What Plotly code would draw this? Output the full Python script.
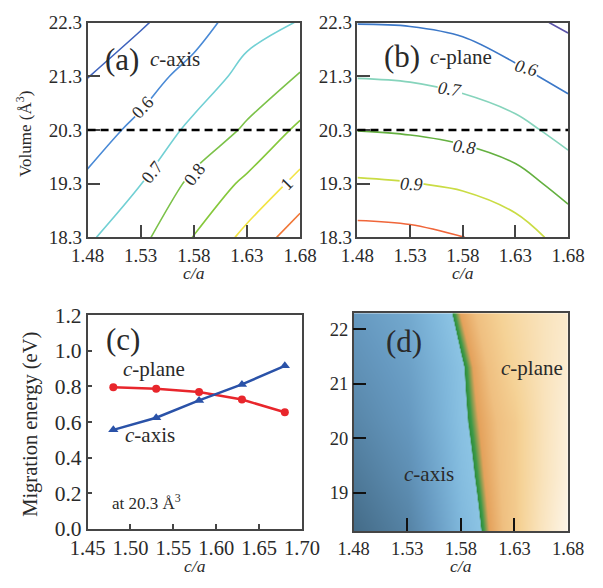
import plotly.graph_objects as go

# ---------------- data ----------------
ca = [1.48, 1.53, 1.58, 1.63, 1.68]          # c/a grid
vol = [18.3, 19.3, 20.3, 21.3, 22.3]         # volume grid (A^3)

# (a) c-axis migration energy (eV), rows = volume, cols = c/a
e_caxis = [
    [0.685, 0.775, 0.904, 1.028, 1.157],
    [0.617, 0.698, 0.827, 0.920, 1.030],
    [0.555, 0.625, 0.725, 0.815, 0.920],
    [0.498, 0.555, 0.638, 0.734, 0.808],
    [0.438, 0.490, 0.550, 0.660, 0.705],
]
# (b) c-plane migration energy (eV)
e_cplane = [
    [1.040, 1.030, 1.002, 0.950, 0.860],
    [0.913, 0.904, 0.884, 0.840, 0.763],
    [0.798, 0.789, 0.769, 0.733, 0.662],
    [0.696, 0.689, 0.667, 0.623, 0.570],
    [0.597, 0.593, 0.576, 0.530, 0.483],
]
levels_a = [0.5, 0.6, 0.7, 0.8, 0.9, 1.0, 1.1]
colors_a = ["#3f63bd", "#4a8ad6", "#72d0d4", "#7cc24a", "#86c83c", "#f2e444", "#f07636"]
# contour labels: text, c/a, volume, angle
labels_a = [("0.6", 1.532, 20.73, -47), ("0.7", 1.541, 19.51, -52),
            ("0.8", 1.581, 19.48, -53), ("1", 1.667, 19.30, -45)]

levels_b = [0.5, 0.6, 0.7, 0.8, 0.9, 1.0]
colors_b = ["#5a52a8", "#3c78c8", "#86d4bc", "#64b040", "#cadc44", "#f0663a"]
labels_b = [("0.6", 1.641, 21.46, 15), ("0.7", 1.568, 21.06, 8),
            ("0.8", 1.582, 19.98, 7), ("0.9", 1.531, 19.30, 3)]

# (c) energies at 20.3 A^3
ca_line = [1.48, 1.53, 1.58, 1.63, 1.68]
e_caxis_203 = [0.556, 0.624, 0.721, 0.811, 0.915]
e_cplane_203 = [0.795, 0.786, 0.768, 0.726, 0.655]

# (d) preference map: E(c-axis) - E(c-plane)
e_diff = [
    [-0.355, -0.255, -0.048, 0.078, 0.297],
    [-0.296, -0.204, -0.028, 0.080, 0.267],
    [-0.243, -0.164, -0.013, 0.082, 0.258],
    [-0.198, -0.134, -0.008, 0.111, 0.238],
    [-0.159, -0.103, 0.020, 0.130, 0.222],
]

FONT = "Liberation Serif"
TXT = "#2a2a2a"
FRAME = "#454545"

fig = go.Figure()

def add_contours(z, levels, colors, xa, ya):
    for L, c in zip(levels, colors):
        fig.add_trace(go.Contour(
            x=ca, y=vol, z=z, xaxis=xa, yaxis=ya,
            autocontour=False,
            contours=dict(start=L, end=L, size=1, coloring="lines", showlabels=False),
            colorscale=[[0, c], [1, c]], showscale=False,
            line=dict(width=1.6), hoverinfo="skip"))

add_contours(e_caxis, levels_a, colors_a, "x", "y")
add_contours(e_cplane, levels_b, colors_b, "x2", "y2")

# (c)
fig.add_trace(go.Scatter(x=ca_line, y=e_cplane_203, xaxis="x3", yaxis="y3",
                         mode="lines+markers", line=dict(color="#e8262c", width=2.5),
                         marker=dict(symbol="circle", size=8, color="#e8262c"),
                         showlegend=False))
fig.add_trace(go.Scatter(x=ca_line, y=e_caxis_203, xaxis="x3", yaxis="y3",
                         mode="lines+markers", line=dict(color="#2a52a8", width=2.5),
                         marker=dict(symbol="triangle-up", size=9, color="#2a52a8"),
                         showlegend=False))

# (d)
zmin, zmax = -0.36, 0.30
stops = [(-0.36, "#436a86"), (-0.16, "#6699c0"), (-0.05, "#7fb7db"), (-0.001, "#8cc4e4"),
         (0.0, "#2f8d3c"), (0.005, "#3a9a48"), (0.018, "#e4a25c"), (0.05, "#efbf80"),
         (0.10, "#f5d296"), (0.18, "#f9e3bc"), (0.30, "#fdf6ea")]
cscale = [[(v - zmin) / (zmax - zmin), col] for v, col in stops]
fig.add_trace(go.Heatmap(x=ca, y=vol, z=e_diff, xaxis="x4", yaxis="y4",
                         zmin=zmin, zmax=zmax, colorscale=cscale, zsmooth="best",
                         showscale=False, hoverinfo="skip"))

def common(size, tc=FRAME):
    return dict(showline=True, mirror=True, linecolor=FRAME, linewidth=1.5,
                ticks="inside", tickcolor=tc, tickwidth=1.5, showgrid=False,
                zeroline=False, tickfont=dict(family=FONT, size=size, color=TXT))

H = 588.0
W = 603.0
def dx(a, b): return [a / W, b / W]
def dy(top, bot): return [1 - bot / H, 1 - top / H]

fig.update_layout(
    width=603, height=588, margin=dict(l=0, r=0, t=0, b=0),
    paper_bgcolor="white", plot_bgcolor="white", showlegend=False,
    xaxis=dict(domain=dx(74, 300), range=[1.48, 1.68], tickvals=ca, tickformat=".2f",
               ticklen=13, anchor="y", **common(19)),
    yaxis=dict(domain=dy(12, 236), range=[18.3, 22.3], tickvals=vol, tickformat=".1f",
               ticklen=13, anchor="x", **common(19)),
    xaxis2=dict(domain=dx(361, 585), range=[1.48, 1.68], tickvals=ca, tickformat=".2f",
                ticklen=13, anchor="y2", **common(19)),
    yaxis2=dict(domain=dy(12, 236), range=[18.3, 22.3], tickvals=vol, tickformat=".1f",
                ticklen=13, anchor="x2", **common(19)),
    xaxis3=dict(domain=dx(74, 302), range=[1.45, 1.70], dtick=0.05, tick0=1.45,
                tickformat=".2f", ticklen=5, anchor="y3", **common(20.5)),
    yaxis3=dict(domain=dy(317, 540), range=[0, 1.2], dtick=0.2, tickformat=".1f",
                ticklen=5, anchor="x3", **common(21.5)),
    xaxis4=dict(domain=dx(357, 585), range=[1.48, 1.68], tickvals=ca, tickformat=".2f",
                ticklen=13, anchor="y4", **common(18.5, "#111")),
    yaxis4=dict(domain=dy(315, 542), range=[18.3, 22.3], tickvals=[19, 20, 21, 22],
                ticklen=13, anchor="x4", **common(18.5, "#111")),
)

# dashed line at 20.3 A^3
for xr, yr in (("x domain", "y"), ("x2 domain", "y2")):
    fig.add_shape(type="line", xref=xr, yref=yr, x0=0, x1=1, y0=20.3, y1=20.3,
                  line=dict(color="black", width=2.5, dash="8px,5px"))

def ann(text, x, y, xref, yref, size, angle=0, xanchor="center", style="normal", bg=None):
    fig.add_annotation(text=text, x=x, y=y, xref=xref, yref=yref, showarrow=False,
                       font=dict(family=FONT, size=size, color=TXT, style=style),
                       textangle=angle, xanchor=xanchor, yanchor="middle",
                       bgcolor=bg, borderpad=0)

# contour labels (white background makes the gap in the line)
for t, x, y, a in labels_a:
    ann(t, x, y, "x", "y", 18, angle=a, bg="white")
for t, x, y, a in labels_b:
    ann(t, x, y, "x2", "y2", 18, angle=a, style="italic", bg="white")

# panel labels and texts
ann("(a)", 0.16, 0.83, "x domain", "y domain", 31)
ann("<i>c</i>-axis", 0.41, 0.83, "x domain", "y domain", 21)
ann("(b)", 0.21, 0.84, "x2 domain", "y2 domain", 31)
ann("<i>c</i>-plane", 0.49, 0.84, "x2 domain", "y2 domain", 21)
ann("(c)", 0.165, 0.885, "x3 domain", "y3 domain", 31)
ann("<i>c</i>-plane", 0.31, 0.75, "x3 domain", "y3 domain", 21)
ann("<i>c</i>-axis", 0.29, 0.44, "x3 domain", "y3 domain", 21)
ann("at 20.3 Å<sup>3</sup>", 0.274, 0.128, "x3 domain", "y3 domain", 17)
ann("(d)", 0.234, 0.868, "x4 domain", "y4 domain", 31)
ann("<i>c</i>-plane", 0.83, 0.75, "x4 domain", "y4 domain", 21)
ann("<i>c</i>-axis", 0.35, 0.26, "x4 domain", "y4 domain", 21)

# axis titles
ann("<i>c/a</i>", 0.5, -0.166, "x domain", "y domain", 17.5)
ann("<i>c/a</i>", 0.5, -0.166, "x2 domain", "y2 domain", 17.5)
ann("<i>c/a</i>", 0.5, -0.174, "x3 domain", "y3 domain", 17.5)
ann("<i>c/a</i>", 0.5, -0.163, "x4 domain", "y4 domain", 17.5)
ann("Volume (Å<sup>3</sup>)", -0.30, 0.48, "x domain", "y domain", 17, angle=-90)
ann("Migration energy (eV)", -0.27, 0.49, "x3 domain", "y3 domain", 20.5, angle=-90)

fig.write_html("out.html")
